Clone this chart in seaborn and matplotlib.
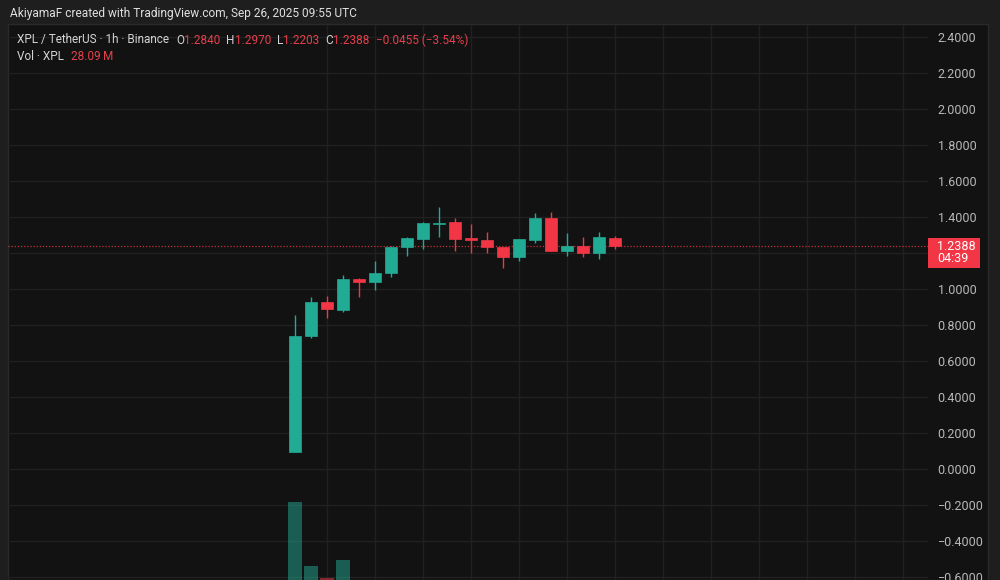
import matplotlib
matplotlib.use("Agg")
import matplotlib.pyplot as plt
import seaborn as sns
import pandas as pd
import numpy as np
from matplotlib.patches import Rectangle
import matplotlib.transforms as mtransforms

# XPL / TetherUS 1h candles (Binance)
opens = [0.095, 0.739, 0.928, 0.883, 1.056, 1.039, 1.089, 1.233, 1.278, 1.361, 1.372,
         1.283, 1.272, 1.233, 1.178, 1.272, 1.394, 1.211, 1.239, 1.200, 1.2840]
highs = [0.856, 0.955, 0.961, 1.078, 1.060, 1.156, 1.240, 1.289, 1.372, 1.456, 1.394,
         1.361, 1.317, 1.235, 1.280, 1.422, 1.428, 1.311, 1.289, 1.317, 1.2970]
lows = [0.094, 0.730, 0.839, 0.872, 0.956, 0.994, 1.067, 1.183, 1.222, 1.289, 1.211,
        1.200, 1.200, 1.117, 1.156, 1.256, 1.211, 1.183, 1.178, 1.167, 1.2203]
closes = [0.739, 0.928, 0.889, 1.056, 1.039, 1.089, 1.233, 1.283, 1.367, 1.367, 1.278,
          1.275, 1.233, 1.178, 1.278, 1.394, 1.211, 1.239, 1.200, 1.289, 1.2388]
# volume in millions XPL (only the tallest bars are visible in the crop)
volumes = [310, 162, 135, 176, 120, 95, 110, 80, 75, 70, 85,
           55, 50, 60, 45, 70, 90, 40, 35, 45, 28.09]

price_ticks = [-0.6, -0.4, -0.2, 0.0, 0.2, 0.4, 0.6, 0.8, 1.0, 1.2, 1.4,
               1.6, 1.8, 2.0, 2.2, 2.4]
last_close = 1.2388
countdown = "04:39"

UP = "#22ab94"
DOWN = "#f23645"
BG = "#121212"
OUTER = "#1e1e1e"
GRID = "#212121"
TXT = "#d4d4d4"
FONT = ["Roboto", "DejaVu Sans"]

sns.set_theme(style="dark")
plt.rcParams["font.family"] = FONT

W, H = 1000, 580
fig = plt.figure(figsize=(10, 5.8), dpi=100)
fig.patch.set_facecolor(OUTER)
fig.patches.append(Rectangle((8 / W, 0), 980 / W, 556 / H, transform=fig.transFigure,
                             facecolor=BG, edgecolor="#2a2a2a", lw=1, zorder=-1))

ax = fig.add_axes([8 / W, 0, 920 / W, 555 / H])
ax.set_facecolor("none")
for s in ax.spines.values():
    s.set_visible(False)

n = len(opens)
x = np.arange(n)
df = pd.DataFrame({"bar": x, "open": opens, "high": highs, "low": lows,
                   "close": closes, "volume": volumes})
df["dir"] = np.where(df["close"] >= df["open"], "up", "down")
colors = [UP if d == "up" else DOWN for d in df["dir"]]

# volume pane overlay
vax = ax.twinx()
sns.barplot(data=df, x="bar", y="volume", hue="dir", palette={"up": UP, "down": DOWN},
            native_scale=True, dodge=False, width=0.93, saturation=1, alpha=0.5,
            errorbar=None, legend=False, linewidth=0, ax=vax)
vax.set_xlim(-17.94, 39.56)
vax.set_ylim(130, 1412)
vax.set_yticks([])
vax.set_ylabel("")
vax.set_xlabel("")
vax.grid(False)
vax.set_zorder(3)
for s in vax.spines.values():
    s.set_visible(False)

# wicks and bodies
ax.set_zorder(2)
ax.vlines(df["bar"], df["low"], df["high"], colors=colors, lw=1, zorder=3)
body_lo = np.minimum(df["open"], df["close"])
body_h = np.maximum(np.abs(df["close"] - df["open"]), 0.006)
ax.bar(df["bar"], body_h, bottom=body_lo, width=0.8, color=colors,
       edgecolor=colors, lw=0.5, zorder=4)

ax.set_xlim(-17.94, 39.56)
ax.set_ylim(-0.6167, 2.4667)

# time grid every 3 bars, price grid every 0.2
ax.set_xticks(np.arange(2, 39, 3))
ax.set_xticklabels([])
ax.set_xlabel("")
ax.set_yticks(price_ticks)
ax.set_yticklabels(["" if abs(t - 1.2) < 1e-9 else f"{t:.4f}".replace("-", "\u2212")
                    for t in price_ticks])
ax.yaxis.tick_right()
ax.yaxis.set_label_position("right")
ax.tick_params(axis="both", length=0)
ax.tick_params(axis="y", pad=7, labelsize=9, labelcolor="#b8b8b8",
               labelright=True, labelleft=False)
ax.grid(True, color=GRID, lw=1)
ax.set_axisbelow(True)

# last price line
ax.axhline(last_close, color=DOWN, lw=0.9, ls=(0, (1, 1.5)), alpha=0.8, zorder=2)

# last price tag
tag_tr = mtransforms.blended_transform_factory(ax.transAxes, ax.transData)
px_x = 1 / 920
px_y = 1 / 180
ax.add_patch(Rectangle((1.0, last_close - 22 * px_y), 52 * px_x, 30 * px_y,
                       transform=tag_tr, facecolor=DOWN, edgecolor="none",
                       clip_on=False, zorder=10))
ax.text(1.0 + 9 * px_x, last_close - 6.5 * px_y, f"{last_close:.4f}\n{countdown}",
        transform=tag_tr, ha="left", va="center", fontsize=9, color="white",
        linespacing=0.95, clip_on=False, zorder=11)

# header texts
renderer = fig.canvas.get_renderer()


def text_run(x_px, y_px, parts, size):
    xx = x_px
    for s, col, gap in parts:
        t = fig.text(xx / W, 1 - y_px / H, s, color=col, fontsize=size,
                     ha="left", va="center", family=FONT)
        bb = t.get_window_extent(renderer=renderer)
        xx += bb.width + gap


VAL = "#e5404c"
text_run(10, 14, [("AkiyamaF created with TradingView.com, Sep 26, 2025 09:55 UTC", "#e0e0e0", 0)], 8.6)
text_run(17, 40, [("XPL / TetherUS \u00b7 1h \u00b7 Binance", TXT, 7),
                  ("O", TXT, 0), ("1.2840", VAL, 6),
                  ("H", TXT, 0), ("1.2970", VAL, 6),
                  ("L", TXT, 0), ("1.2203", VAL, 6),
                  ("C", TXT, 0), ("1.2388", VAL, 6),
                  ("\u22120.0455 (\u22123.54%)", VAL, 0)], 8.5)
text_run(17, 56, [("Vol \u00b7 XPL", TXT, 7), ("28.09\u2009M", VAL, 0)], 8.5)

fig.savefig("out.png", dpi=100, facecolor=OUTER)
